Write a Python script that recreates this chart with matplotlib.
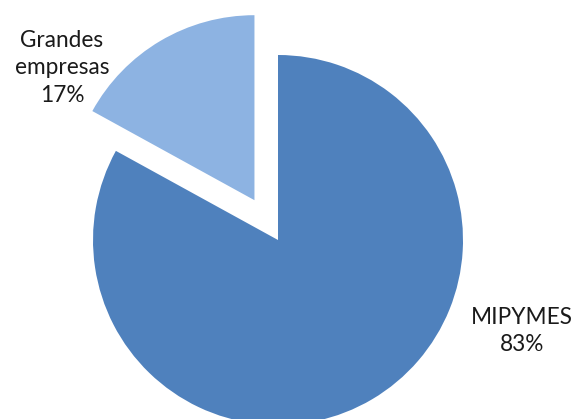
import matplotlib.pyplot as plt

# Participación por tamaño de empresa
names = ["Grandes\nempresas", "MIPYMES"]
shares = [17, 83]
colors = ["#8DB3E2", "#4F81BD"]
explode = [0.25, 0]

W, H = 577, 419
CX, CY, R = 278, 240, 185  # centro y radio del pastel en píxeles


def px(x, y):
    # pasa coordenadas de píxel (origen arriba a la izquierda) a datos
    return (x - CX) / R, (CY - y) / R


fig = plt.figure(figsize=(W / 100, H / 100), dpi=100)
ax = fig.add_axes([0, 0, 1, 1])
ax.pie(shares, colors=colors, explode=explode, startangle=90,
       counterclock=True, radius=1, wedgeprops={"linewidth": 0})
ax.set_xlim(-CX / R, (W - CX) / R)
ax.set_ylim(-(H - CY) / R, CY / R)
ax.set_aspect("equal")
ax.axis("off")

label_pos = [px(62, 68), px(522, 331)]
for name, share, (x, y) in zip(names, shares, label_pos):
    ax.text(x, y, f"{name}\n{share}%", ha="center", va="center",
            fontsize=16.3, family="Lato", linespacing=1.4, color="#1a1a1a")

fig.savefig("out.png", dpi=100)
